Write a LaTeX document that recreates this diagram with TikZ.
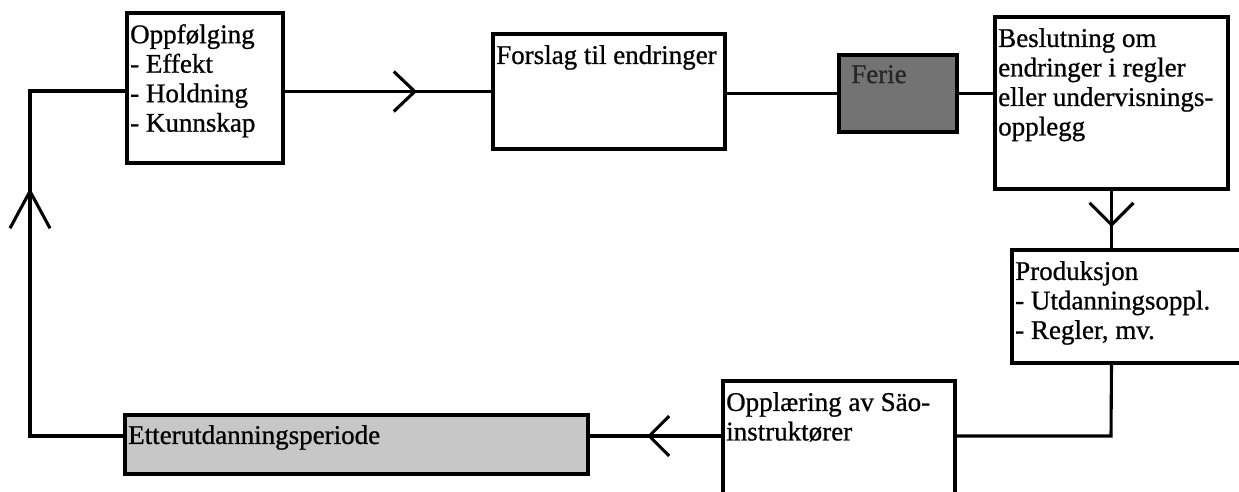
\documentclass[tikz,border=0pt]{standalone}
\usepackage{fontspec}
\setmainfont{Liberation Serif}
\newfontfamily\heavyserif{Liberation Serif}[FakeBold=0.8]
\usetikzlibrary{arrows.meta,decorations.markings}
\tikzset{
  box/.style={draw, line width=3.6pt, rectangle, anchor=north west, outer sep=0pt, inner sep=0pt},
  txt/.style={anchor=north west, align=left, inner xsep=3pt, inner ysep=11pt, font=\heavyserif\fontsize{27}{29.5}\selectfont},
  conn/.style={line width=3.1pt},
  chev/.style n args={3}{postaction={decorate}, decoration={markings, mark=at position #1 with {\arrow{Straight Barb[length=#2pt,width=#3pt,line width=3.1pt]}}}},
}
\begin{document}
\begin{tikzpicture}[x=1pt,y=-1pt]
\useasboundingbox (0,0) rectangle (1239,492);
\clip (0,0) rectangle (1239,492);
% boxes
\node[box, minimum width=156pt, minimum height=150pt] (opp) at (127,13) {};
\node[box, minimum width=232pt, minimum height=115pt] (fors) at (493,34) {};
\node[box, minimum width=118pt, minimum height=77pt, fill=black!55] (ferie) at (839,55) {};
\node[box, minimum width=233pt, minimum height=172pt] (besl) at (995,17) {};
\node[box, minimum width=235pt, minimum height=113pt] (prod) at (1012,250) {};
\node[box, minimum width=232pt, minimum height=125pt] (oppl) at (723,381) {};
\node[box, minimum width=463pt, minimum height=59pt, fill=black!22] (etter) at (125,415) {};
% texts
\node[txt] (opptxt) at (opp.north west) {Oppfølging\\- Effekt\\- Holdning\\- Kunnskap};
\node[txt] (forstxt) at (fors.north west) {Forslag til endringer};
\node[txt, inner xsep=12pt, inner ysep=10pt, text=black!85] (ferietxt) at (ferie.north west) {Ferie};
\node[txt] (besltxt) at (besl.north west) {Beslutning om\\endringer i regler\\eller undervisnings-\\opplegg};
\node[txt] (prodtxt) at (prod.north west) {Produksjon\\- Utdanningsoppl.\\- Regler, mv.};
\node[txt] (oppltxt) at (oppl.north west) {Opplæring av Säo-\\instruktører};
\node[txt, inner ysep=10pt] (ettertxt) at (etter.north west) {Etterutdanningsperiode};
% connector corners
\coordinate (c1) at (30,436);
\coordinate (c2) at (30,91);
\coordinate (c4) at (1111,436);
% connectors
\draw[conn, chev={134pt}{21}{40}] (opp.east |- fors.west) -- (fors.west);
\draw[conn] (fors.east |- ferie.west) -- (ferie.west);
\draw[conn] (ferie.east) -- (besl.west |- ferie.east);
\draw[conn, chev={38pt}{22}{44}] (besl.south) -- (besl.south |- prod.north);
\draw[conn] (besl.south |- prod.south) -- (c4) -- (oppl.east |- c4);
\draw[conn, chev={76pt}{20}{40}] (oppl.west |- c4) -- (etter.east |- c4);
\draw[conn, chev={343pt}{37}{40}] (etter.west |- c1) -- (c1) -- (c2) -- (opp.west |- c2);
\end{tikzpicture}
\end{document}
